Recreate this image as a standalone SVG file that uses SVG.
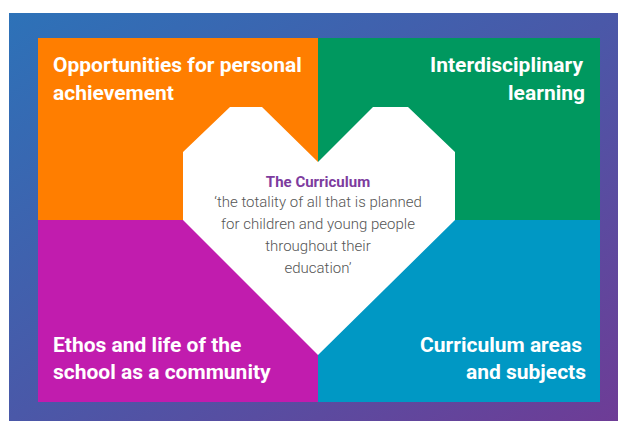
<svg xmlns="http://www.w3.org/2000/svg" width="618" height="421" viewBox="0 0 618 421">
<defs>
<linearGradient id="bg" x1="0" y1="0" x2="1" y2="1">
<stop offset="0" stop-color="#2d72b8"/>
<stop offset="0.5" stop-color="#4a58a8"/>
<stop offset="1" stop-color="#6e3c96"/>
</linearGradient>
</defs>
<style>
.h{font-family:Roboto,"Liberation Sans",sans-serif;font-weight:700;font-size:21px;fill:#ffffff}
.t{font-family:Roboto,"Liberation Sans",sans-serif;font-size:15px;font-weight:300;fill:#555555;text-anchor:middle}
.tt{font-family:Roboto,"Liberation Sans",sans-serif;font-size:15px;font-weight:700;fill:#7d3c9e;text-anchor:middle}
.e{text-anchor:end}
</style>
<rect x="9" y="13" width="609" height="408" fill="url(#bg)"/>
<g id="personal">
<rect x="38" y="38" width="280" height="182" fill="#ff7e00"/>
<text class="h" x="53" y="72">Opportunities for personal</text>
<text class="h" x="53" y="100">achievement</text>
</g>
<g id="interdisciplinary">
<rect x="318" y="38" width="282" height="182" fill="#00985f"/>
<text class="h e" x="583" y="72">Interdisciplinary</text>
<text class="h e" x="585" y="100">learning</text>
</g>
<g id="ethos">
<rect x="38" y="220" width="280" height="182" fill="#c11cae"/>
<text class="h" x="53" y="352">Ethos and life of the</text>
<text class="h" x="53" y="379">school as a community</text>
</g>
<g id="areas">
<rect x="318" y="220" width="282" height="182" fill="#0098c4"/>
<text class="h e" x="582" y="352">Curriculum areas</text>
<text class="h e" x="586" y="379">and subjects</text>
</g>
<g id="curriculum">
<polygon points="183,152 230,107 262,107 318,162 373,107 408,107 455,152 455,220 318,355 183,220" fill="#ffffff"/>
<text class="tt" x="318" y="187">The Curriculum</text>
<text class="t" x="318" y="207">‘the totality of all that is planned</text>
<text class="t" x="318" y="229">for children and young people</text>
<text class="t" x="318" y="251">throughout their</text>
<text class="t" x="318" y="273">education’</text>
</g>
</svg>
